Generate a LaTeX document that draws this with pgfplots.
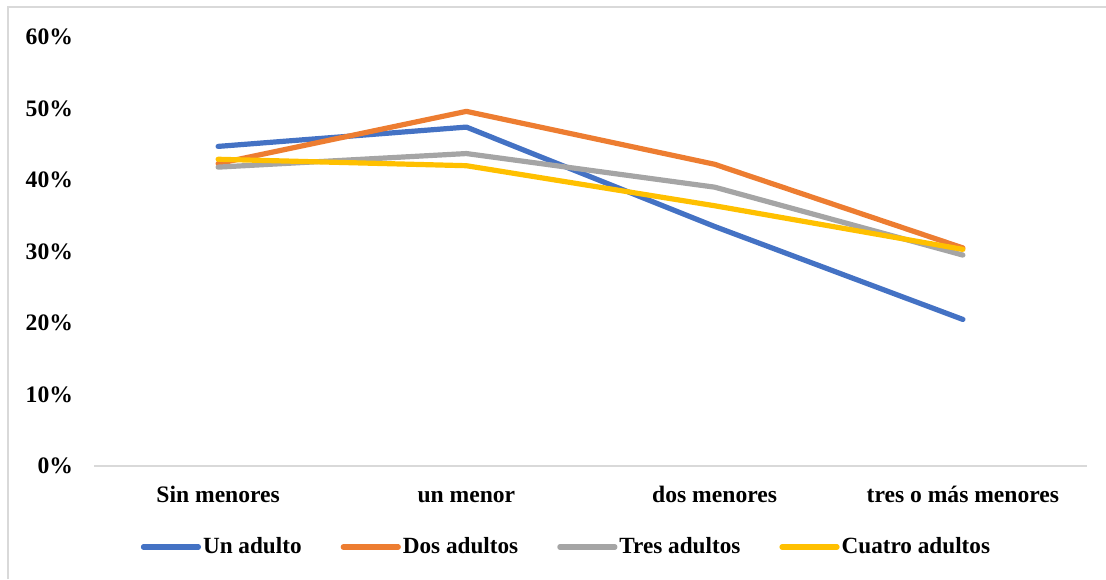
\documentclass[border=0pt]{standalone}
\usepackage{fontspec}
\setmainfont{Liberation Serif}
\usepackage{pgfplots}
\pgfplotsset{compat=1.18}
\definecolor{cblue}{HTML}{4472C4}
\definecolor{corange}{HTML}{ED7D31}
\definecolor{cgray}{HTML}{A5A5A5}
\definecolor{cyellow}{HTML}{FFC000}
\definecolor{frame}{HTML}{D9D9D9}
\begin{document}
\begin{tikzpicture}
\useasboundingbox (0,0) rectangle (553pt,289.5pt);
\draw[frame, line width=1pt] (3.75pt,0pt) -- (3.75pt,286pt) -- (553pt,286pt);
\begin{axis}[
  at={(47pt,56.5pt)}, anchor=south west,
  scale only axis, width=496.5pt, height=214.5pt,
  xmin=-0.5, xmax=3.5, ymin=0, ymax=60,
  xtick={0,1,2,3},
  xticklabels={Sin menores, un menor, dos menores, tres o más menores},
  ytick={0,10,...,60},
  yticklabel={\pgfmathprintnumber{\tick}\%},
  /pgf/number format/assume math mode=true,
  axis x line*=bottom, axis y line*=left,
  y axis line style={draw=none},
  x axis line style={draw=frame, line width=1pt, -},
  major tick length=0pt, tick style={draw=none},
  ticklabel style={font=\fontsize{11.8}{14}\selectfont\bfseries},
  yticklabel style={xshift=-7pt},
  xticklabel style={yshift=-7.5pt, text height=1.6ex, text depth=0.3ex},
  clip=false,
  every axis plot/.append style={line width=2.6pt, line cap=round, line join=round},
  legend columns=4,
  legend style={draw=none, fill=none, at={(0.4758,-0.1888)}, anchor=center,
    font=\fontsize{11.6}{14}\selectfont\bfseries,
    nodes={inner sep=1pt},
    /tikz/every even column/.append style={column sep=18.5pt}},
  legend image code/.code={\draw[#1, line width=2.6pt] (0pt,0pt) -- (27.5pt,0pt);},
]
\addplot[cblue] coordinates {(0,44.7) (1,47.4) (2,33.5) (3,20.5)};
\addlegendentry{Un adulto}
\addplot[corange] coordinates {(0,42.3) (1,49.6) (2,42.2) (3,30.5)};
\addlegendentry{Dos adultos}
\addplot[cgray] coordinates {(0,41.8) (1,43.7) (2,39.0) (3,29.5)};
\addlegendentry{Tres adultos}
\addplot[cyellow] coordinates {(0,42.9) (1,42.0) (2,36.4) (3,30.3)};
\addlegendentry{Cuatro adultos}
\end{axis}
\end{tikzpicture}
\end{document}
